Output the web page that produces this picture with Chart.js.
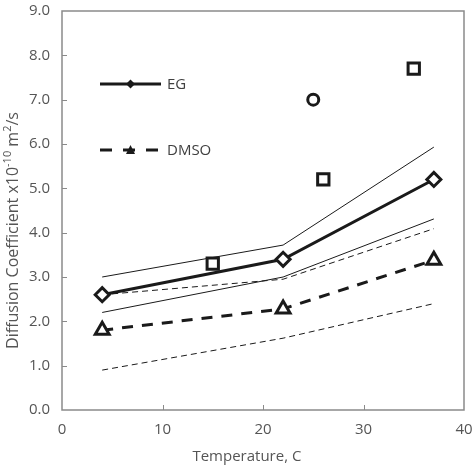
<!DOCTYPE html>
<html>
<head>
<meta charset="utf-8">
<script src="https://cdn.jsdelivr.net/npm/chart.js@4.4.1/dist/chart.umd.min.js"></script>
<style>
  html, body { margin: 0; padding: 0; background: #fff; }
  #wrap { width: 475px; height: 465px; }
</style>
</head>
<body>
<div id="wrap"><canvas id="chart"></canvas></div>
<script>
// Temperatures (C) of the fitted lines
const temps = [4, 22, 37];

// EG: mean line and its upper / lower bounds
const egMean = [2.6, 3.4, 5.2];
const egUpper = [3.0, 3.72, 5.93];
const egLower = [2.2, 3.0, 4.31];

// DMSO: mean line and its upper / lower bounds
const dmsoMean = [1.8, 2.28, 3.38];
const dmsoUpper = [2.6, 2.95, 4.09];
const dmsoLower = [0.9, 1.62, 2.4];

// Literature points
const squareTemps = [15, 26, 35];
const squareValues = [3.3, 5.2, 7.7];
const circleTemps = [25];
const circleValues = [7.0];

const xTicks = [0, 10, 20, 30, 40];
const yTicks = [0, 1, 2, 3, 4, 5, 6, 7, 8, 9];

const ink = '#1a1a1a';
const textColor = '#555555';
const frameColor = '#8a8a8a';
const fontFamily = "'Open Sans', 'Noto Sans', sans-serif";

function pts(xs, ys) {
    return xs.map((x, i) => ({ x: x, y: ys[i] }));
}

// frame around plot + inward tick marks
const framePlugin = {
    id: 'frame',
    beforeDatasetsDraw(chart) {
        const { ctx, chartArea: a, scales } = chart;
        ctx.save();
        ctx.strokeStyle = frameColor;
        ctx.lineWidth = 1.5;
        ctx.strokeRect(a.left, a.top, a.right - a.left, a.bottom - a.top);
        ctx.lineWidth = 1;
        ctx.beginPath();
        xTicks.slice(1, -1).forEach(v => {
            const px = Math.round(scales.x.getPixelForValue(v)) + 0.5;
            ctx.moveTo(px, a.bottom);
            ctx.lineTo(px, a.bottom - 5);
        });
        yTicks.slice(1, -1).forEach(v => {
            const py = Math.round(scales.y.getPixelForValue(v)) + 0.5;
            ctx.moveTo(a.left, py);
            ctx.lineTo(a.left + 5, py);
        });
        ctx.stroke();
        ctx.restore();
    }
};

// axis titles (y title has superscripts)
const titlePlugin = {
    id: 'axisTitles',
    afterDraw(chart) {
        const { ctx, chartArea: a } = chart;
        ctx.save();
        ctx.fillStyle = textColor;
        ctx.textBaseline = 'middle';
        ctx.textAlign = 'center';
        ctx.font = '15px ' + fontFamily;
        ctx.fillText('Temperature, C', a.left + (a.right - a.left) * 0.46, a.bottom + 47);

        const parts = [
            { t: 'Diffusion Coefficient x10', sup: false },
            { t: '-10', sup: true },
            { t: ' m', sup: false },
            { t: '2', sup: true },
            { t: '/s', sup: false }
        ];
        const big = '16px ' + fontFamily;
        const small = '11px ' + fontFamily;
        let total = 0;
        parts.forEach(p => {
            ctx.font = p.sup ? small : big;
            p.w = ctx.measureText(p.t).width;
            total += p.w;
        });
        ctx.translate(13, (a.top + a.bottom) / 2 + 20);
        ctx.rotate(-Math.PI / 2);
        ctx.textAlign = 'left';
        let cx = -total / 2;
        parts.forEach(p => {
            ctx.font = p.sup ? small : big;
            ctx.fillText(p.t, cx, p.sup ? -5 : 0);
            cx += p.w;
        });
        ctx.restore();
    }
};

// legend drawn inside the plot area
const legendPlugin = {
    id: 'innerLegend',
    afterDraw(chart) {
        const { ctx, chartArea: a } = chart;
        const x0 = a.left + 38;
        const x1 = x0 + 61;
        const rows = [
            { label: chart.data.datasets[0].label, y: a.top + 73, dash: [], marker: 'diamond' },
            { label: chart.data.datasets[3].label, y: a.top + 139, dash: [12, 11], marker: 'triangle' }
        ];
        ctx.save();
        rows.forEach(r => {
            ctx.strokeStyle = ink;
            ctx.fillStyle = ink;
            ctx.lineWidth = 3;
            ctx.setLineDash(r.dash);
            ctx.beginPath();
            ctx.moveTo(x0, r.y);
            ctx.lineTo(x1, r.y);
            ctx.stroke();
            ctx.setLineDash([]);
            const mx = (x0 + x1) / 2;
            ctx.beginPath();
            if (r.marker === 'diamond') {
                ctx.moveTo(mx - 4.5, r.y);
                ctx.lineTo(mx, r.y - 4.5);
                ctx.lineTo(mx + 4.5, r.y);
                ctx.lineTo(mx, r.y + 4.5);
            } else {
                ctx.moveTo(mx, r.y - 5);
                ctx.lineTo(mx + 4.5, r.y + 4);
                ctx.lineTo(mx - 4.5, r.y + 4);
            }
            ctx.closePath();
            ctx.fill();
            ctx.fillStyle = '#404040';
            ctx.font = '15px ' + fontFamily;
            ctx.textBaseline = 'middle';
            ctx.textAlign = 'left';
            ctx.fillText(r.label, x1 + 6, r.y + 1);
        });
        ctx.restore();
    }
};

const lineBase = { showLine: true, pointRadius: 0, fill: false, borderColor: ink, tension: 0 };

const ctx = document.getElementById('chart').getContext('2d');
new Chart(ctx, {
    type: 'scatter',
    data: {
        datasets: [
            Object.assign({}, lineBase, {
                label: 'EG', data: pts(temps, egMean), borderWidth: 3,
                pointStyle: 'rectRot', pointRadius: 7, pointBorderWidth: 3,
                pointBackgroundColor: '#fff', pointBorderColor: ink, order: 1
            }),
            Object.assign({}, lineBase, { label: 'EG upper', data: pts(temps, egUpper), borderWidth: 1, order: 5 }),
            Object.assign({}, lineBase, { label: 'EG lower', data: pts(temps, egLower), borderWidth: 1, order: 5 }),
            Object.assign({}, lineBase, {
                label: 'DMSO', data: pts(temps, dmsoMean), borderWidth: 3, borderDash: [11, 9],
                pointStyle: 'triangle', pointRadius: 8, pointBorderWidth: 3,
                pointBackgroundColor: '#fff', pointBorderColor: ink, order: 1
            }),
            Object.assign({}, lineBase, { label: 'DMSO upper', data: pts(temps, dmsoUpper), borderWidth: 1, borderDash: [6, 4], order: 5 }),
            Object.assign({}, lineBase, { label: 'DMSO lower', data: pts(temps, dmsoLower), borderWidth: 1, borderDash: [6, 4], order: 5 }),
            {
                label: 'Squares', data: pts(squareTemps, squareValues), showLine: false,
                pointStyle: 'rect', pointRadius: 8, pointBorderWidth: 3,
                pointBackgroundColor: '#fff', pointBorderColor: ink, order: 0
            },
            {
                label: 'Circle', data: pts(circleTemps, circleValues), showLine: false,
                pointStyle: 'circle', pointRadius: 5.5, pointBorderWidth: 3,
                pointBackgroundColor: '#fff', pointBorderColor: ink, order: 0
            }
        ]
    },
    options: {
        responsive: true,
        maintainAspectRatio: false,
        animation: false,
        layout: { padding: { top: 10, right: 10, left: 0, bottom: 0 } },
        plugins: {
            legend: { display: false },
            tooltip: { enabled: false }
        },
        scales: {
            x: {
                type: 'linear',
                min: 0, max: 40,
                afterFit: s => { s.height = 55; s.paddingLeft = 0; s.paddingRight = 0; },
                afterBuildTicks: s => { s.ticks = xTicks.map(v => ({ value: v })); },
                grid: { display: false, drawTicks: false },
                border: { display: false },
                ticks: { color: textColor, padding: 11, font: { family: fontFamily, size: 15 } }
            },
            y: {
                type: 'linear',
                min: 0, max: 9,
                afterFit: s => { s.width = 62; s.paddingTop = 0; s.paddingBottom = 0; },
                afterBuildTicks: s => { s.ticks = yTicks.map(v => ({ value: v })); },
                grid: { display: false, drawTicks: false },
                border: { display: false },
                ticks: {
                    color: textColor, padding: 12, font: { family: fontFamily, size: 15 },
                    callback: v => Number(v).toFixed(1)
                }
            }
        }
    },
    plugins: [framePlugin, titlePlugin, legendPlugin]
});
</script>
</body>
</html>
